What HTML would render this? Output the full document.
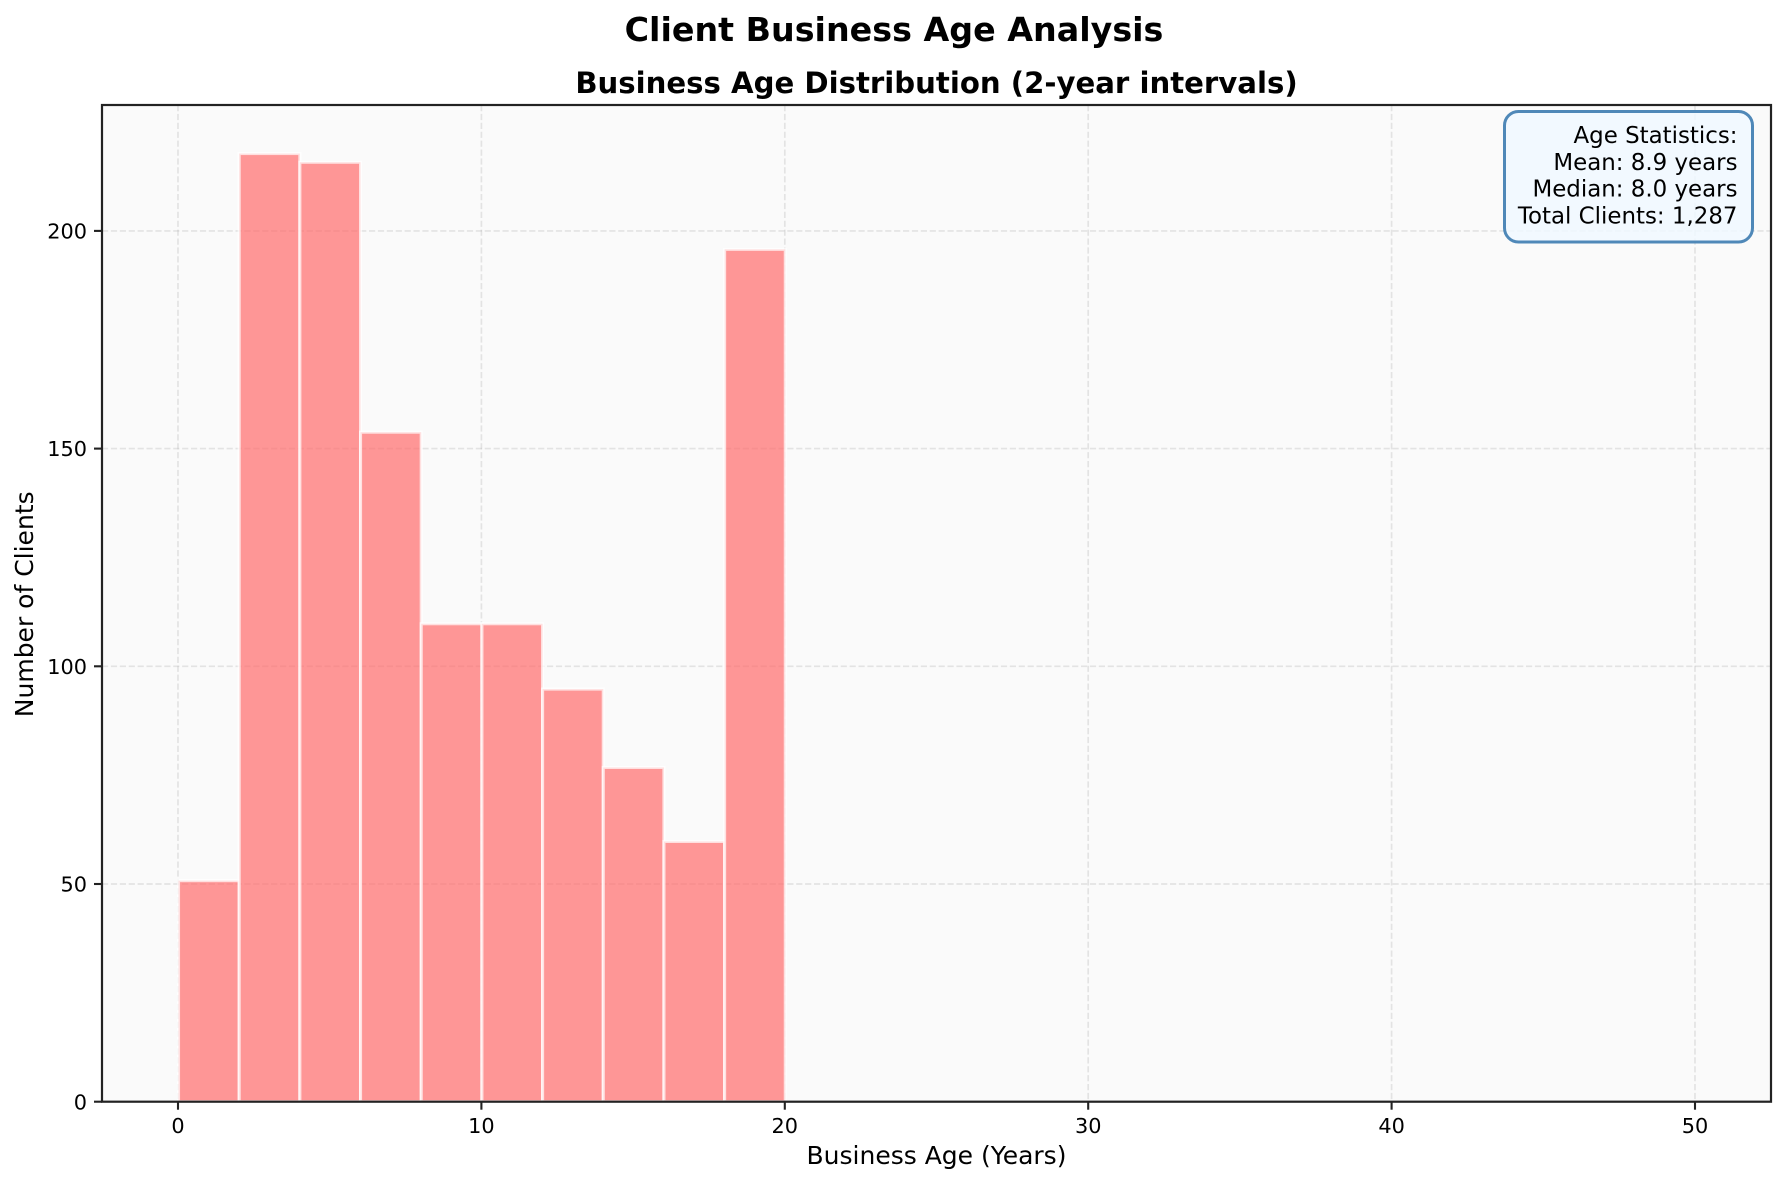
<!DOCTYPE html>
<html lang="en">
<head>
<meta charset="utf-8">
<title>Client Business Age Analysis</title>
<style>
html,body{margin:0;padding:0;background:#fff;width:1786px;height:1184px;overflow:hidden}
svg{display:block}
text{font-family:"DejaVu Sans","Liberation Sans",sans-serif;fill:#000}
</style>
</head>
<body>
<svg id="chart" xmlns="http://www.w3.org/2000/svg" width="1786" height="1184" viewBox="0 0 1786 1184">
  <rect x="0" y="0" width="1786" height="1184" fill="#fff"/>
  <rect x="102" y="105" width="1669" height="996.7" fill="#fafafa"/>
  <g id="grid"></g>
  <g id="bars"></g>
  <g id="ticks"></g>
  <rect x="102" y="105" width="1669" height="996.7" fill="none" stroke="#222" stroke-width="2.2"/>
  <text x="894" y="41" text-anchor="middle" font-size="33.3" font-weight="700">Client Business Age Analysis</text>
  <text x="936.5" y="93" text-anchor="middle" font-size="29.17" font-weight="700">Business Age Distribution (2-year intervals)</text>
  <text x="936.5" y="1164" text-anchor="middle" font-size="25">Business Age (Years)</text>
  <text transform="translate(33 604.3) rotate(-90)" text-anchor="middle" font-size="25">Number of Clients</text>
  <g>
    <rect x="1504.5" y="111.5" width="248" height="130.5" rx="14" ry="14" fill="#f0f8ff" fill-opacity="0.85" stroke="#4682b4" stroke-opacity="0.95" stroke-width="3"/>
    <text x="1737.5" y="143" text-anchor="end" font-size="22.92">Age Statistics:</text>
    <text x="1737.5" y="170" text-anchor="end" font-size="22.92">Mean: 8.9 years</text>
    <text x="1737.5" y="196.7" text-anchor="end" font-size="22.92">Median: 8.0 years</text>
    <text x="1737.5" y="223.3" text-anchor="end" font-size="22.92">Total Clients: 1,287</text>
  </g>
</svg>
<script>
const binStarts = [0, 2, 4, 6, 8, 10, 12, 14, 16, 18];
const binWidth = 2;
const clientCounts = [51, 218, 216, 154, 110, 110, 95, 77, 60, 196];
const xTickValues = [0, 10, 20, 30, 40, 50];
const yTickValues = [0, 50, 100, 150, 200];

const NS = 'http://www.w3.org/2000/svg';
const plotLeft = 102, plotRight = 1771, plotTop = 105, plotBottom = 1101.7;
const xOrigin = 178, xPerUnit = 30.34;
const yPerUnit = 4.354;
const barShiftX = 0.5, barShiftY = 1;
function xScale(v) { return xOrigin + v * xPerUnit; }
function yScale(v) { return plotBottom - v * yPerUnit; }

const gridGroup = document.getElementById('grid');
const barsGroup = document.getElementById('bars');
const ticksGroup = document.getElementById('ticks');

function makeLine(x1, y1, x2, y2, stroke, width, dash, opacity) {
  const l = document.createElementNS(NS, 'line');
  l.setAttribute('x1', x1);
  l.setAttribute('y1', y1);
  l.setAttribute('x2', x2);
  l.setAttribute('y2', y2);
  l.setAttribute('stroke', stroke);
  l.setAttribute('stroke-width', width);
  if (dash) l.setAttribute('stroke-dasharray', dash);
  if (opacity) l.setAttribute('stroke-opacity', opacity);
  return l;
}

xTickValues.forEach(function (v) {
  const l = makeLine(xScale(v), plotTop, xScale(v), plotBottom, '#b0b0b0', 1.67, '6.2 2.7', 0.3);
  
  
  gridGroup.appendChild(l);
});
yTickValues.slice(1).forEach(function (v) {
  const l = makeLine(plotLeft, yScale(v), plotRight, yScale(v), '#b0b0b0', 1.67, '6.2 2.7', 0.3);
  
  
  gridGroup.appendChild(l);
});

clientCounts.forEach(function (count, i) {
  const r = document.createElementNS(NS, 'rect');
  const x0 = xScale(binStarts[i]) + barShiftX;
  const x1 = xScale(binStarts[i] + binWidth) + barShiftX;
  const top = yScale(count) + barShiftY;
  r.setAttribute('x', x0);
  r.setAttribute('y', top);
  r.setAttribute('width', x1 - x0);
  r.setAttribute('height', plotBottom - top);
  r.setAttribute('fill', '#ff6b6b');
  r.setAttribute('fill-opacity', '0.7');
  r.setAttribute('stroke', '#ffffff');
  r.setAttribute('stroke-opacity', '0.7');
  r.setAttribute('stroke-width', '3.1');
  
  
  barsGroup.appendChild(r);
});

xTickValues.forEach(function (v) {
  const t = makeLine(xScale(v), plotBottom, xScale(v), plotBottom + 8, '#222', 2.1);
  
  
  ticksGroup.appendChild(t);
  const lab = document.createElementNS(NS, 'text');
  lab.setAttribute('x', xScale(v));
  lab.setAttribute('y', 1133);
  lab.setAttribute('text-anchor', 'middle');
  lab.setAttribute('font-size', '20.83');
  lab.textContent = String(v);
  
  
  ticksGroup.appendChild(lab);
});

yTickValues.forEach(function (v) {
  const t = makeLine(plotLeft - 8, yScale(v), plotLeft, yScale(v), '#222', 2.1);
  
  
  ticksGroup.appendChild(t);
  const lab = document.createElementNS(NS, 'text');
  lab.setAttribute('x', 87);
  lab.setAttribute('y', yScale(v) + 7.6);
  lab.setAttribute('text-anchor', 'end');
  lab.setAttribute('font-size', '20.83');
  lab.textContent = String(v);
  
  
  ticksGroup.appendChild(lab);
});
</script>
</body>
</html>
